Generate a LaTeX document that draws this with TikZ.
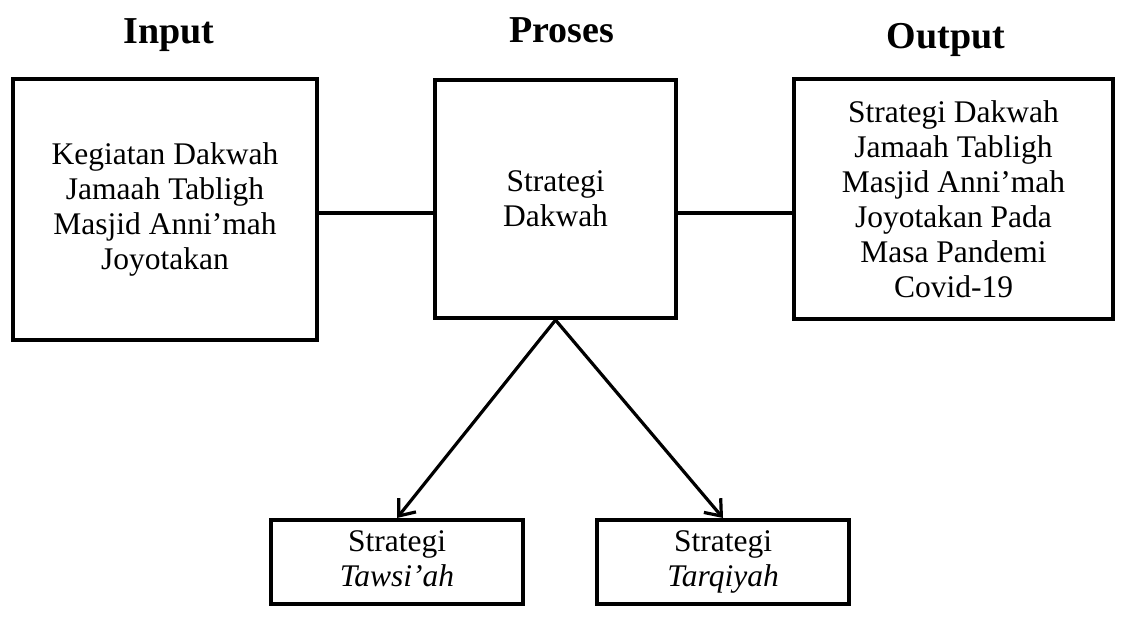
\documentclass[tikz,border=0pt]{standalone}
\usepackage{fontspec}
\setmainfont{Liberation Serif}
\usetikzlibrary{
  arrows.meta
}
\tikzset{
  boxnode/.style={draw, line width=2pt, rectangle, align=center,
    font=\fontsize{15.75pt}{17.5pt}\selectfont},
  titlenode/.style={anchor=base, font=\fontsize{19pt}{22pt}\selectfont\bfseries},
  linknode/.style={line width=1.6pt},
  flowarrow/.style={line width=1.6pt, -{Straight Barb[length=7pt, width=11pt, line width=1.6pt]}}
}

\begin{document}
\begin{tikzpicture}[x=0.5pt, y=-0.5pt]
      \useasboundingbox (0,0) rectangle (1123,619);

      \node [titlenode] (TtlInput) at (169, 44) {Input};
      \node [titlenode] (TtlProses) at (562, 43) {Proses};
      \node [titlenode] (TtlOutput) at (946, 49) {Output};

      \node [boxnode,
        minimum width=152pt,
        minimum height=130.5pt,
      ] (Input) at (165, 209.5) {Kegiatan Dakwah\\Jamaah Tabligh\\Masjid Anni’mah\\Joyotakan};

      \node [boxnode,
        minimum width=120.5pt,
        minimum height=119pt,
      ] (Proses) at (555.5, 199) {Strategi\\Dakwah};

      \node [boxnode,
        minimum width=159.5pt,
        minimum height=120pt,
      ] (Output) at (953.5, 199) {Strategi Dakwah\\Jamaah Tabligh\\Masjid Anni’mah\\Joyotakan Pada\\Masa Pandemi\\Covid-19};

      \node [boxnode,
        minimum width=126pt,
        minimum height=42pt,
      ] (Tawsiah) at (397, 562) {\strut Strategi\\\textit{Tawsi’ah}\strut};

      \node [boxnode,
        minimum width=126pt,
        minimum height=42pt,
      ] (Tarqiyah) at (723, 562) {\strut Strategi\\\textit{Tarqiyah}\strut};

      \coordinate (LinkY) at (0, 213);
      \draw[linknode] (Input.east |- LinkY) -- (Proses.west |- LinkY);
      \draw[linknode] (Proses.east |- LinkY) -- (Output.west |- LinkY);

      \draw[flowarrow] (Proses.south) -- (Tawsiah.north);
      \draw[flowarrow] (Proses.south) -- (Tarqiyah.north);

    \end{tikzpicture}
\end{document}
